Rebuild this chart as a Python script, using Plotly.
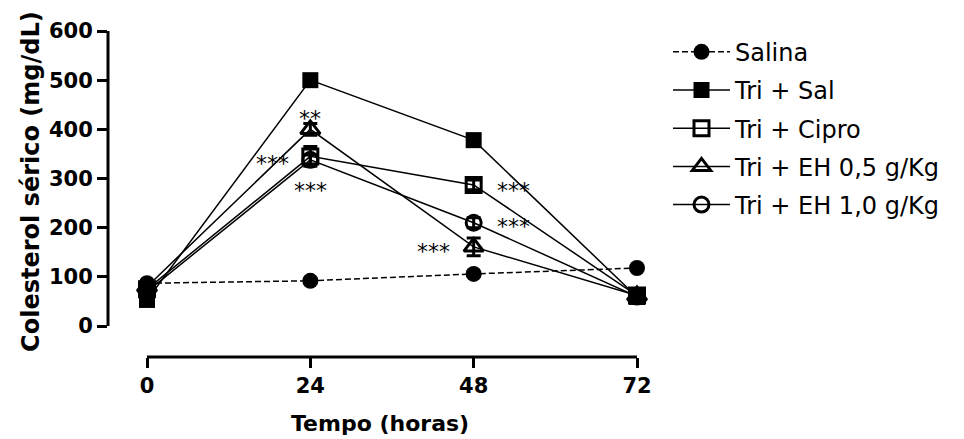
import plotly.graph_objects as go

hours = [0, 24, 48, 72]
tick_labels = ["0", "24", "48", "72"]
y_ticks = [0, 100, 200, 300, 400, 500, 600]

salina = [87, 92, 106, 118]
tri_sal = [53, 500, 378, 59]
tri_cipro = [75, 345, 287, 62]
tri_eh05 = [80, 400, 161, 62]
tri_eh10 = [70, 338, 210, 60]

err_salina = [5, 5, 5, 5]
err_tri_sal = [10, 10, 12, 5]
err_tri_cipro = [8, 20, 10, 5]
err_tri_eh05 = [8, 12, 18, 5]
err_tri_eh10 = [8, 10, 10, 5]

# significance labels
sig_x = [24, 24, 24, 48, 48, 48]
sig_y = [430, 338, 283, 283, 210, 160]
sig_text = ["**", "***", "***", "***", "***", "***"]
sig_shift = [0, -38, 0, 40, 40, -40]

series = [
    ("Salina", salina, err_salina, "circle", "dash"),
    ("Tri + Sal", tri_sal, err_tri_sal, "square", "solid"),
    ("Tri + Cipro", tri_cipro, err_tri_cipro, "square-open", "solid"),
    ("Tri + EH 0,5 g/Kg", tri_eh05, err_tri_eh05, "triangle-up-open", "solid"),
    ("Tri + EH 1,0 g/Kg", tri_eh10, err_tri_eh10, "circle-open", "solid"),
]
sizes = {"circle": 16, "square": 16, "square-open": 15, "triangle-up-open": 17, "circle-open": 15}

FONT = "DejaVu Sans"

fig = go.Figure()
for i, (name, vals, err, sym, dash) in enumerate(series):
    fig.add_trace(go.Scatter(
        x=hours, y=vals, name=name, mode="lines+markers",
        legendgroup=f"g{i}",
        line=dict(color="black", width=1.5, dash="6px,3px" if dash == "dash" else dash),
        marker=dict(symbol=sym, size=sizes[sym], color="black",
                    line=dict(color="black", width=3 if "open" in sym else 0)),
        error_y=dict(type="data", array=err, visible=True, color="black", thickness=3, width=7),
        cliponaxis=False,
    ))

for x, y, t, s in zip(sig_x, sig_y, sig_text, sig_shift):
    fig.add_annotation(x=x, y=y, text=t, showarrow=False, xshift=s, yshift=-4,
                       font=dict(family=FONT, size=22, color="black"))

# axis titles as annotations for precise placement
fig.add_annotation(text="<b>Colesterol sérico (mg/dL)</b>", textangle=-90,
                   xref="paper", yref="paper", x=-0.1456, y=0.54,
                   xanchor="center", yanchor="middle", showarrow=False,
                   font=dict(family=FONT, size=24, color="black"))
fig.add_annotation(text="<b>Tempo (horas)</b>",
                   xref="paper", yref="paper", x=0.514, y=-0.2025,
                   xanchor="center", yanchor="middle", showarrow=False,
                   font=dict(family=FONT, size=22, color="black"))

# offset axis lines (Prism style)
fig.add_shape(type="line", xref="paper", yref="y", x0=0, x1=0, y0=0, y1=600,
              line=dict(color="black", width=3))
fig.add_shape(type="line", xref="x", yref="paper", x0=0, x1=72, y0=0, y1=0,
              line=dict(color="black", width=3))

fig.update_layout(
    width=964, height=439,
    margin=dict(l=108, r=327, t=31, b=82),
    plot_bgcolor="white", paper_bgcolor="white",
    font=dict(family=FONT, color="black"),
    showlegend=True,
    legend=dict(x=1.0586, y=1.004, xanchor="left", yanchor="top",
                font=dict(size=24, family=FONT, color="black"),
                tracegroupgap=4, itemwidth=57, bgcolor="rgba(0,0,0,0)"),
)
fig.update_xaxes(range=[-5.73, 72], tickvals=hours, ticktext=tick_labels,
                 showline=False, showgrid=False, zeroline=False,
                 ticks="outside", ticklen=10, tickwidth=3, tickcolor="black",
                 tickfont=dict(size=21, family=FONT, color="black", weight="bold"))
fig.update_yaxes(range=[-63, 600], tickvals=y_ticks,
                 showline=False, showgrid=False, zeroline=False,
                 ticks="outside", ticklen=10, tickwidth=3, tickcolor="black",
                 tickfont=dict(size=21, family=FONT, color="black", weight="bold"))

fig.write_html("out.html")
